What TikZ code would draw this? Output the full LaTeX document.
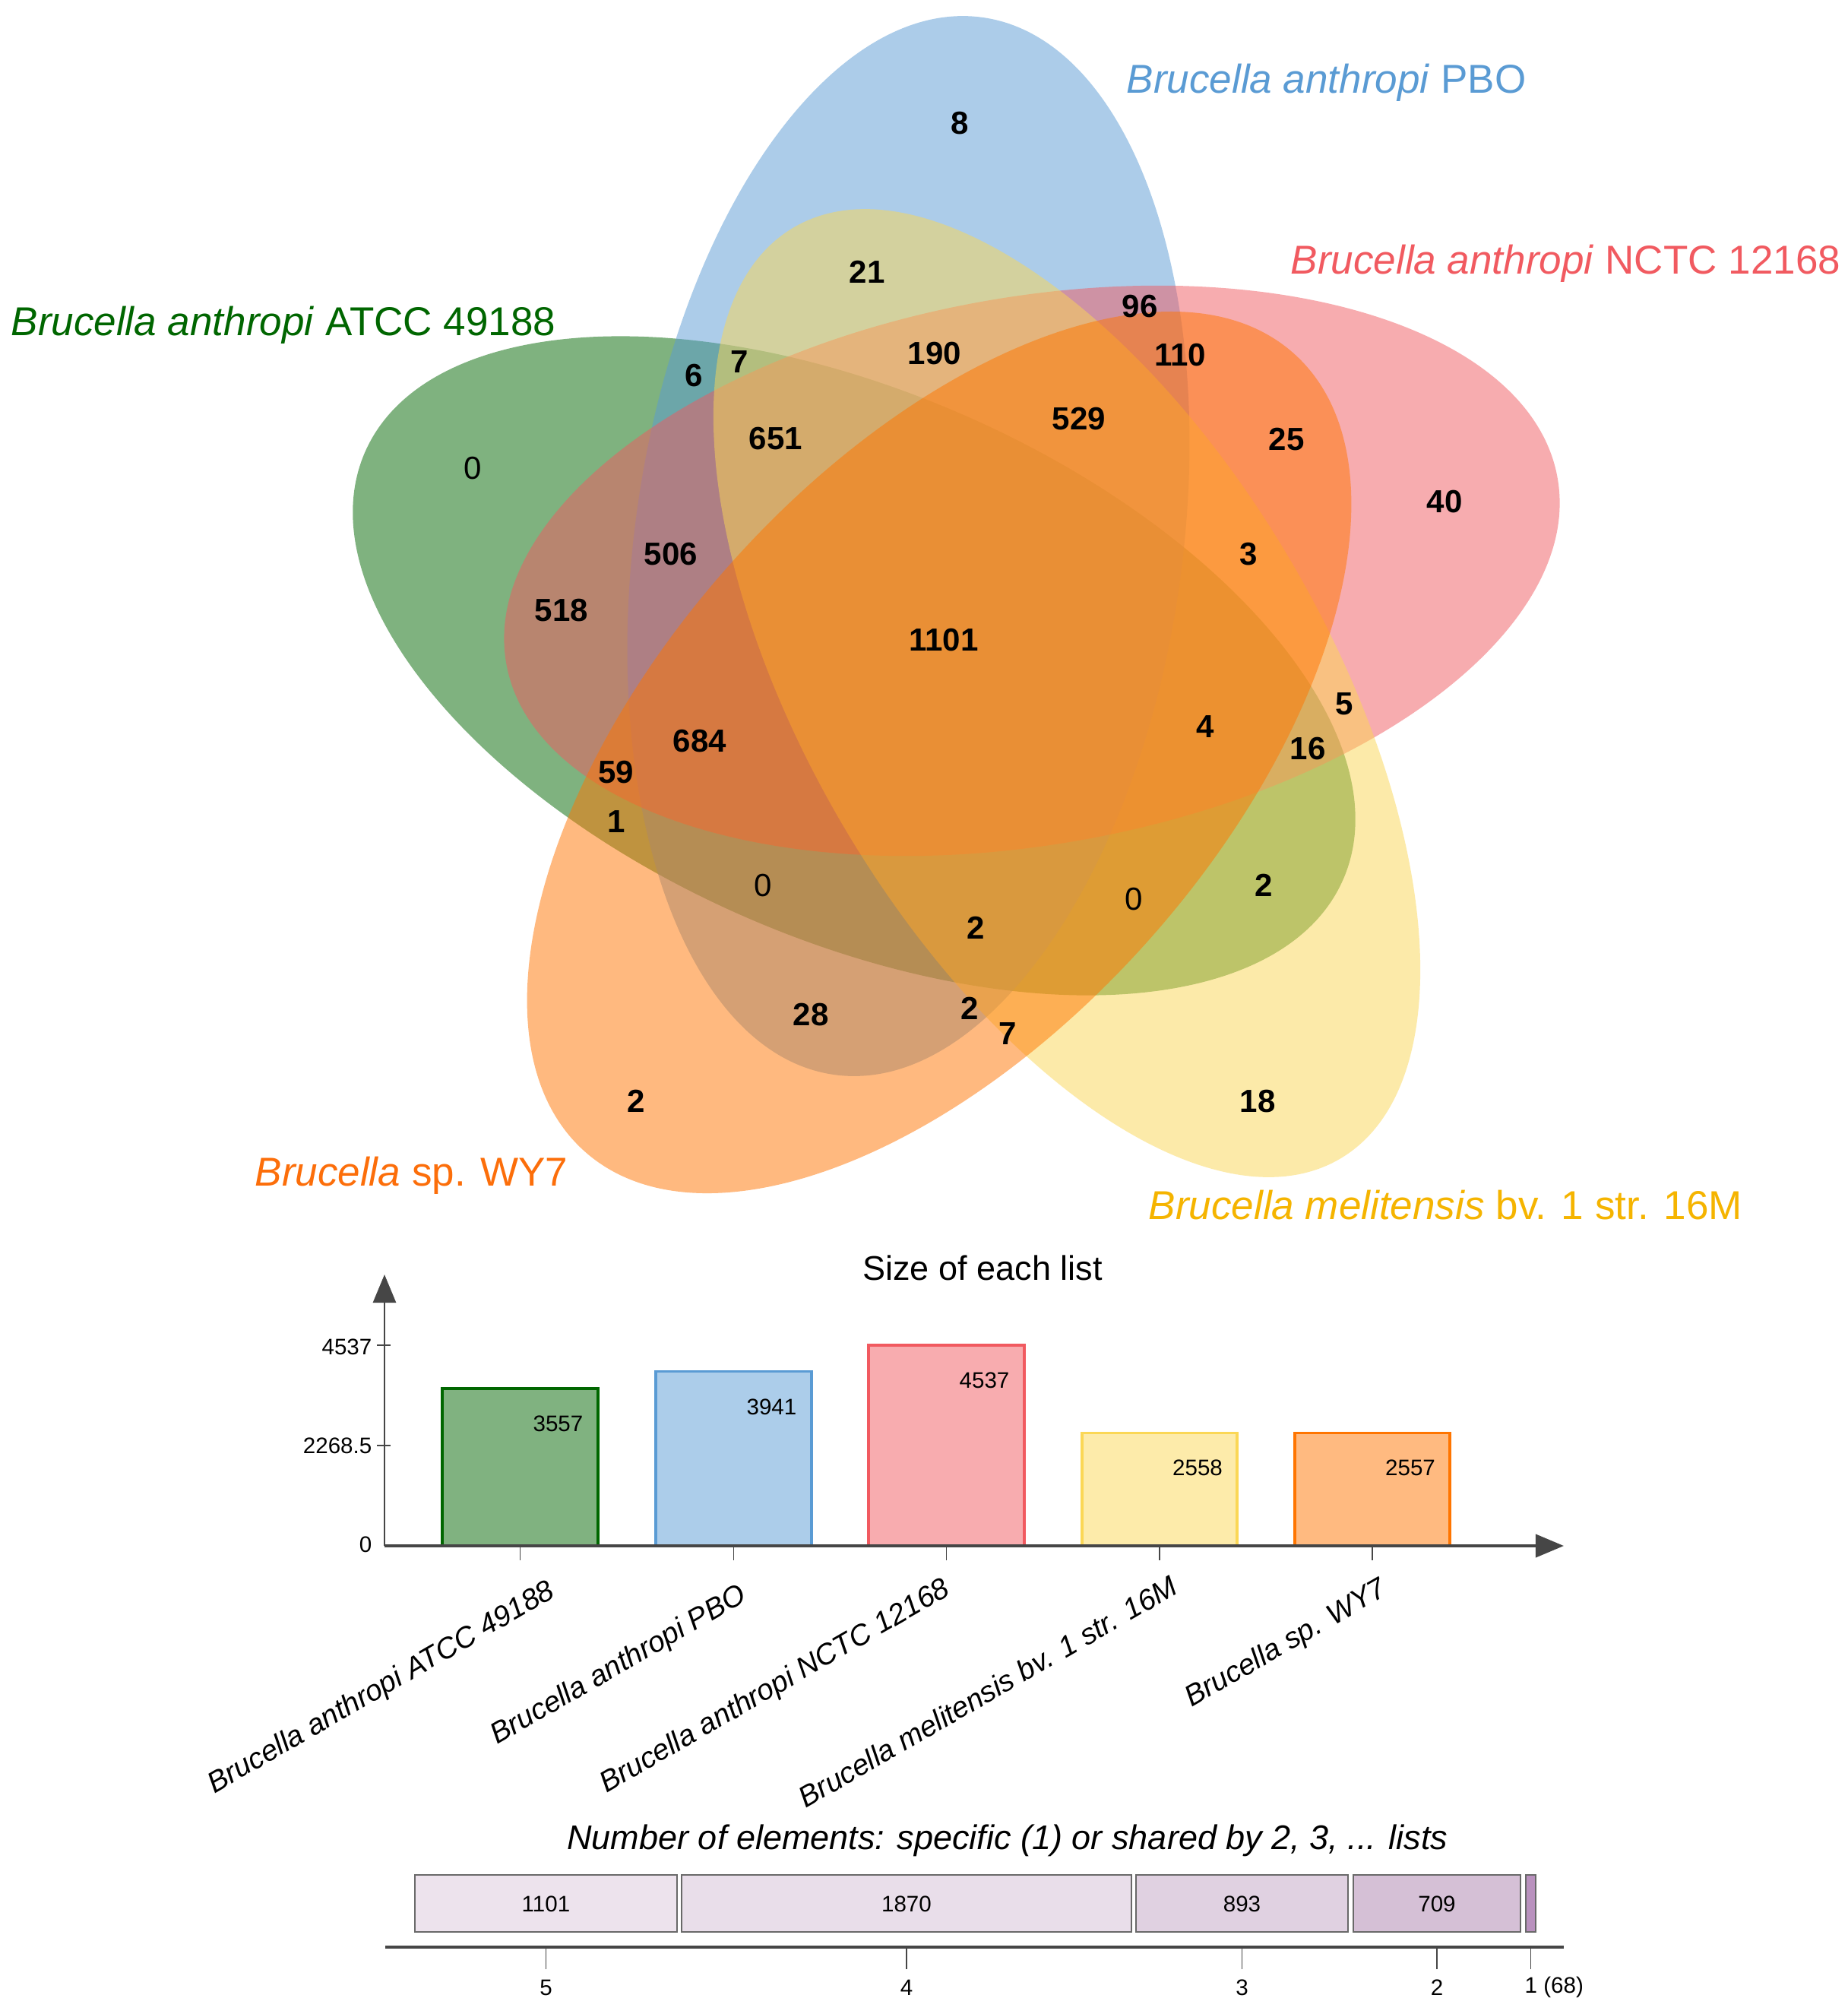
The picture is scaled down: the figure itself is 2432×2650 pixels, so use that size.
\documentclass[tikz,border=0pt]{standalone}
\usepackage{fontspec}
\setmainfont{Liberation Sans}
\usetikzlibrary{arrows.meta}
\definecolor{cgreen}{RGB}{0,102,0}
\definecolor{cblue}{RGB}{90,155,212}
\definecolor{cred}{RGB}{241,90,96}
\definecolor{cyellow}{RGB}{251,215,85}
\definecolor{corange}{RGB}{255,117,0}
\definecolor{cytext}{RGB}{245,180,0}
\definecolor{cotext}{RGB}{252,110,10}
\definecolor{axisgray}{RGB}{70,70,70}
\definecolor{boxgray}{RGB}{105,105,105}
\definecolor{pbox1}{RGB}{237,227,237}
\definecolor{pbox2}{RGB}{233,222,234}
\definecolor{pbox3}{RGB}{224,209,225}
\definecolor{pbox4}{RGB}{213,192,214}
\definecolor{pbox5}{RGB}{185,145,190}
\tikzset{
  setshape/.style={fill opacity=0.5},
  vnum/.style={inner sep=0pt, font=\fontsize{11.95pt}{14pt}\selectfont\bfseries},
  vzero/.style={inner sep=0pt, font=\fontsize{11.95pt}{14pt}\selectfont},
  setlabel/.style={inner sep=0pt, anchor=base west, font=\fontsize{15.08pt}{18pt}\selectfont},
  charttitle/.style={inner sep=0pt, font=\fontsize{12.8pt}{15pt}\selectfont},
  smallnum/.style={inner sep=0pt, font=\fontsize{8.4pt}{10pt}\selectfont},
  xlab/.style={inner sep=0pt, anchor=base east, rotate=30, font=\fontsize{10.95pt}{13pt}\selectfont\itshape},
  axisline/.style={draw=axisgray, line width=1.1pt},
  yaxisline/.style={draw=axisgray, line width=0.8pt},
  tickline/.style={draw=axisgray, line width=0.4pt},
  barbox/.style={line width=0.9pt},
  cntbox/.style={draw=boxgray, line width=0.6pt},
  axisarrow/.style={-{Triangle[length=0.37cm, width=0.30cm]}},
}
\begin{document}
\begin{tikzpicture}[x=0.01cm, y=-0.01cm]
\fill[white] (0,0) rectangle (2432,2650);
\useasboundingbox (0,0) rectangle (2432,2650);

% ---------- Venn ellipses ----------
\fill[cgreen, setshape, rotate around={156.4:(1124,876)}] (1124,876) ellipse [x radius=7.02cm, y radius=3.6cm];
\fill[cblue, setshape, rotate around={82.0:(1195.5,718.5)}] (1195.5,718.5) ellipse [x radius=7.02cm, y radius=3.6cm];
\fill[cred, setshape, rotate around={10.0:(1358,751)}] (1358,751) ellipse [x radius=7.02cm, y radius=3.6cm];
\fill[cyellow, setshape, rotate around={-59.6:(1404,912)}] (1404,912) ellipse [x radius=7.10cm, y radius=3.42cm];
\fill[corange, setshape, rotate around={-131.6:(1236,990)}] (1236,990) ellipse [x radius=7.02cm, y radius=3.70cm];

% ---------- Set labels ----------
\node[setlabel, text=cblue] (lPBO) at (1482,122) {\itshape Brucella anthropi\/\upshape{} PBO};
\node[setlabel, text=cred] (lNCTC) at (1698,360) {\itshape Brucella anthropi\/\upshape{} NCTC 12168};
\node[setlabel, text=cgreen] (lATCC) at (14,441) {\itshape Brucella anthropi\/\upshape{} ATCC 49188};
\node[setlabel, text=cotext] (lWY7) at (335,1560) {\itshape Brucella\/\upshape{} sp. WY7};
\node[setlabel, text=cytext] (lMEL) at (1511,1604) {\itshape Brucella melitensis\/\upshape{} bv. 1 str. 16M};

% ---------- Venn numbers ----------
\node[vnum] (n01) at (1263,162) {8};
\node[vnum] (n02) at (1141,358) {21};
\node[vnum] (n03) at (1500,403) {96};
\node[vnum] (n04) at (1553,467) {110};
\node[vnum] (n05) at (1230,465) {190};
\node[vnum] (n06) at (913,494) {6};
\node[vnum] (n07) at (973,476) {7};
\node[vnum] (n08) at (1021,577) {651};
\node[vnum] (n09) at (1420,551) {529};
\node[vnum] (n10) at (1693,578) {25};
\node[vnum] (n11) at (1901,660) {40};
\node[vzero] (n12) at (622,616) {0};
\node[vnum] (n13) at (883,729) {506};
\node[vnum] (n14) at (1643,729) {3};
\node[vnum] (n15) at (739,803) {518};
\node[vnum] (n16) at (1242,842) {1101};
\node[vnum] (n17) at (1769,926) {5};
\node[vnum] (n18) at (1586,956) {4};
\node[vnum] (n19) at (921,975) {684};
\node[vnum] (n20) at (1721,985) {16};
\node[vnum] (n21) at (811,1016) {59};
\node[vnum] (n22) at (811,1081) {1};
\node[vzero] (n23) at (1004,1165) {0};
\node[vnum] (n24) at (1663,1165) {2};
\node[vzero] (n25) at (1492,1183) {0};
\node[vnum] (n26) at (1284,1221) {2};
\node[vnum] (n27) at (1067,1335) {28};
\node[vnum] (n28) at (1276,1327) {2};
\node[vnum] (n29) at (1326,1360) {7};
\node[vnum] (n30) at (837,1449) {2};
\node[vnum] (n31) at (1655,1449) {18};

% ---------- Bar chart ----------
\node[charttitle] (t1) at (1293,1668) {Size of each list};
\coordinate (O) at (506,2034);
\coordinate (Ytop) at (506,1677);
\coordinate (Xend) at (2058,2034);

\draw[barbox, draw=cgreen, fill=cgreen!50] (582,2034) rectangle (787,1827);
\draw[barbox, draw=cblue, fill=cblue!50] (863,2034) rectangle (1068,1804.7);
\draw[barbox, draw=cred, fill=cred!50] (1143,2034) rectangle (1348,1770);
\draw[barbox, draw=cyellow, fill=cyellow!50] (1424,2034) rectangle (1628,1885.2);
\draw[barbox, draw=corange, fill=corange!50] (1704,2034) rectangle (1908,1885.2);

\node[smallnum] (b1) at (734.5,1873) {3557};
\node[smallnum] (b2) at (1015.5,1851) {3941};
\node[smallnum] (b3) at (1295.5,1816) {4537};
\node[smallnum] (b4) at (1576,1931) {2558};
\node[smallnum] (b5) at (1856,1931) {2557};

\draw[yaxisline, axisarrow] (O) -- (Ytop);
\draw[axisline, axisarrow] (O) -- (Xend);

\draw[tickline] (496,1770) -- (514,1770);
\draw[tickline] (496,1902) -- (514,1902);
\node[smallnum, anchor=east] (y1) at (490,1772) {4537};
\node[smallnum, anchor=east] (y2) at (490,1902) {2268.5};
\node[smallnum, anchor=east] (y0) at (490,2032) {0};

\foreach \tx in {684.5,965.5,1245.5,1526,1806}{
  \draw[tickline] (\tx,2036) -- (\tx,2053);
}

\node[xlab] (x1) at (733,2100) {Brucella anthropi ATCC 49188};
\node[xlab] (x2) at (985,2105) {Brucella anthropi PBO};
\node[xlab] (x3) at (1253,2097) {Brucella anthropi NCTC 12168};
\node[xlab] (x4) at (1553,2095) {Brucella melitensis bv. 1 str. 16M};
\node[xlab] (x5) at (1828,2097) {Brucella sp. WY7};

% ---------- Count bar ----------
\node[charttitle, font=\fontsize{12.8pt}{15pt}\selectfont\itshape] (t2) at (1326,2422) {Number of elements: specific (1) or shared by 2, 3, ... lists};

\draw[cntbox, fill=pbox1] (546,2467) rectangle (891,2542);
\draw[cntbox, fill=pbox2] (897,2467) rectangle (1489,2542);
\draw[cntbox, fill=pbox3] (1495,2467) rectangle (1774,2542);
\draw[cntbox, fill=pbox4] (1781,2467) rectangle (2001,2542);
\draw[cntbox, fill=pbox5] (2008,2467) rectangle (2021,2542);

\node[smallnum] (c1) at (718.5,2505) {1101};
\node[smallnum] (c2) at (1193,2505) {1870};
\node[smallnum] (c3) at (1634.5,2505) {893};
\node[smallnum] (c4) at (1891,2505) {709};

\coordinate (Bl) at (507,2562);
\coordinate (Br) at (2058,2562);
\draw[axisline] (Bl) -- (Br);
\foreach \tx in {718.5,1193,1634.5,1891,2014.5}{
  \draw[tickline] (\tx,2564) -- (\tx,2591);
}
\node[smallnum] (k5) at (718.5,2615) {5};
\node[smallnum] (k4) at (1193,2615) {4};
\node[smallnum] (k3) at (1634.5,2615) {3};
\node[smallnum] (k2) at (1891,2615) {2};
\node[smallnum, anchor=west] (k1) at (2006,2615) {1 (68)};
\end{tikzpicture}
\end{document}
